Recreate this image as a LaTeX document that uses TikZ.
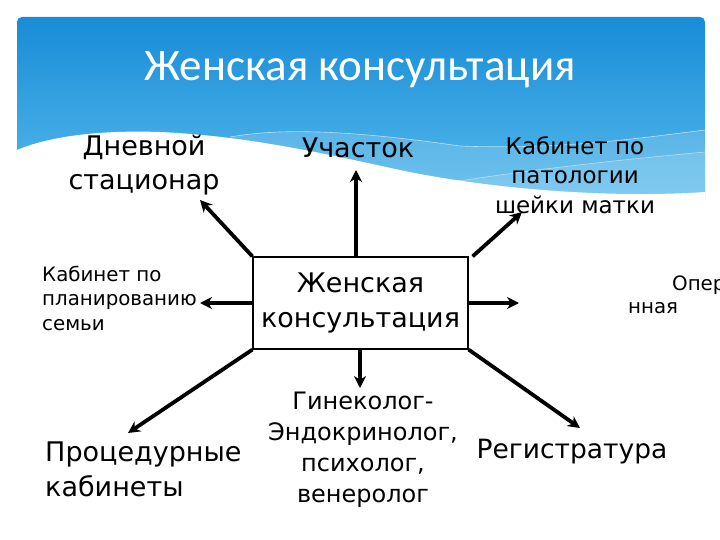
\documentclass[tikz,border=0pt]{standalone}
\usepackage{fontspec}
\setmainfont{DejaVu Sans}
\newfontfamily\titlefont{Carlito}
\usetikzlibrary{arrows.meta}
\definecolor{hdrtop}{RGB}{24,140,215}
\definecolor{hdrbot}{RGB}{88,187,236}
\newcommand{\fsz}[2]{\fontsize{#1}{#2}\selectfont}

\begin{document}
\begin{tikzpicture}[x=1pt,y=-1pt,every node/.style={inner sep=0pt},
  arr/.style={line width=3.8pt,-{Stealth[length=12pt,width=12pt]}}]
\useasboundingbox[fill=white] (0,0) rectangle (720,540);
% header with waves
\shade[top color=hdrtop, bottom color=hdrbot, rounded corners=5pt] (17,17) rectangle (705,205);
\fill[white, opacity=.15] (230,137) .. controls (280,128) and (350,130) .. (460,146) .. controls (560,150) and (640,138) .. (705,130) -- (705,205) -- (230,205) -- cycle;
\fill[white, opacity=.12] (440,184) .. controls (540,168) and (620,160) .. (705,152) -- (705,205) -- (440,205) -- cycle;
\draw[white, opacity=.6, line width=.6pt] (230,137) .. controls (280,128) and (350,130) .. (460,146) .. controls (560,150) and (640,138) .. (705,130);
\draw[white, opacity=.5, line width=.6pt] (440,184) .. controls (540,168) and (620,160) .. (705,152);
\fill[white] (17,150) .. controls (50,136) and (100,130) .. (160,132) .. controls (250,136) and (330,155) .. (400,170) .. controls (480,187) and (600,199) .. (705,192) -- (705,212) -- (17,212) -- cycle;
\node[text=white, font=\titlefont\fsz{45}{48}] (title) at (360,70) {Женская консультация};

% centre
\node[draw, line width=1.2pt, minimum width=215pt, minimum height=92pt, align=center, font=\fsz{27}{35}] (kc) at (360.5,303) {Женская\\консультация};

% surrounding
\node[align=center, font=\fsz{27}{34}] (dnev) at (144,165) {Дневной\\стационар};
\node[font=\fsz{27}{34}] (uch) at (358,148) {Участок};
\node[align=center, font=\fsz{23}{29.5}] (patol) at (575,175) {Кабинет по\\патологии\\шейки матки};
\node[align=left, anchor=west, font=\fsz{19.8}{24.5}] (plan) at (42,298) {Кабинет по\\планированию\\семьи};
\node[anchor=west, font=\fsz{19.8}{24}] (oper) at (672,285) {Опер};
\node[anchor=west, font=\fsz{19.8}{24}] (oper2) at (628,308) {нная};
\node[align=center, font=\fsz{24}{31}] (gin) at (363,450) {Гинеколог-\\Эндокринолог,\\психолог,\\венеролог};
\node[align=left, anchor=west, font=\fsz{27}{35}] (proc) at (45,469) {Процедурные\\кабинеты};
\node[font=\fsz{26.5}{35}] (reg) at (572,452) {Регистратура};

% arrow tips
\coordinate (dnevtip) at (200,200);
\coordinate (uchtip) at (356,170);
\coordinate (patoltip) at (522,212);
\coordinate (plantip) at (200,303);
\coordinate (opertip) at (519,303);
\coordinate (gintip) at (360,388);
\coordinate (proctip) at (128,433);
\coordinate (regtip) at (580,428);

\draw[arr] (kc.north west) -- (dnevtip);
\draw[arr] (kc.north -| uchtip) -- (uchtip);
\draw[arr] ([xshift=4pt]kc.north east) -- (patoltip);
\draw[arr] (kc.west) -- (plantip);
\draw[arr] (kc.east) -- (opertip);
\draw[arr] (kc.south -| gintip) -- (gintip);
\draw[arr] (kc.south west) -- (proctip);
\draw[arr] (kc.south east) -- (regtip);
\end{tikzpicture}
\end{document}
